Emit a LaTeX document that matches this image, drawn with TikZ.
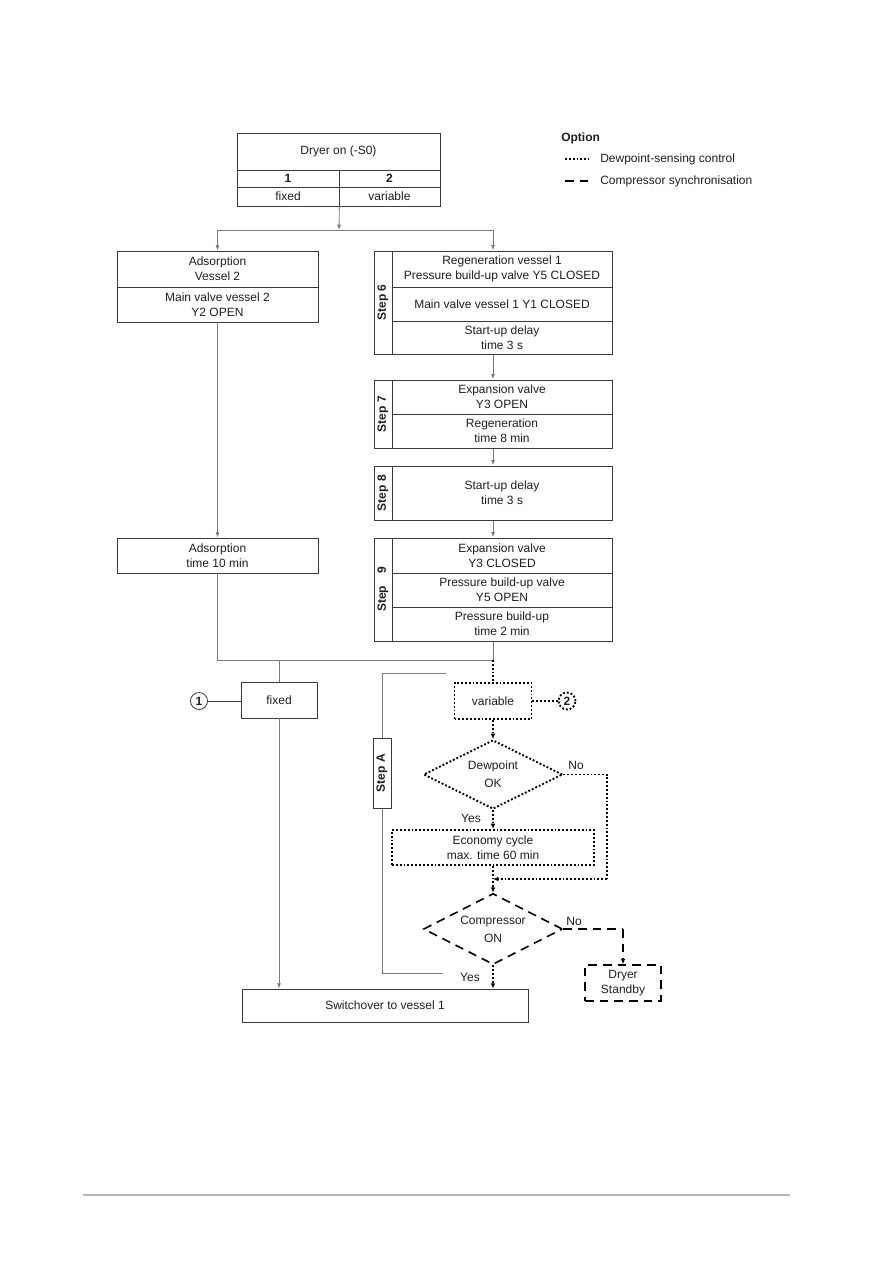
\documentclass[tikz,border=0pt]{standalone}
\usepackage{fontspec}
\setmainfont{Liberation Sans}
\usetikzlibrary{arrows.meta,shapes.geometric,fit}
\definecolor{boxc}{HTML}{3A3A3A}
\definecolor{linec}{HTML}{7A7A7A}
\definecolor{txt}{HTML}{1E1E1E}
\newcommand\fs{\fontsize{9pt}{11.5pt}\selectfont}
\newcommand\fsd{\fontsize{9pt}{13.5pt}\selectfont}
\begin{document}
\begin{tikzpicture}[x=0.75pt,y=-0.75pt,
  cell/.style={draw=boxc,line width=0.6pt,inner sep=0pt,align=center,font=\fs,text=txt},
  wh/.style 2 args={minimum width=#1*0.75pt,minimum height=#2*0.75pt},
  steplab/.style={rotate=90,font=\fs\bfseries,text=txt,inner sep=0pt},
  conn/.style={draw=linec,line width=0.6pt},
  arr/.style={conn,-{Latex[length=4pt,width=3pt]}},
  dotl/.style={draw=black,line width=1.4pt,dash pattern=on 1.4pt off 1.5pt},
  dashl/.style={draw=black,line width=1.2pt,dash pattern=on 6.5pt off 4.5pt},
  dtip/.style={-{Latex[length=4pt,width=3.5pt]}},
  lab/.style={font=\fs,text=txt,inner sep=0pt},
  dia/.style={diamond,aspect=2,inner sep=0pt,align=center,font=\fsd,text=txt},
  circ/.style={circle,inner sep=0pt,minimum size=17*0.75pt,font=\fs\bfseries,text=txt}
]
\useasboundingbox (0,0) rectangle (893,1263);

% Legend
\node[lab,anchor=west,font=\fs\bfseries] (opt) at (561,138) {Option};
\coordinate (l1a) at (565,159); \coordinate (l1b) at (589,159);
\coordinate (l2a) at (565,181); \coordinate (l2b) at (589,181);
\draw[dotl] (l1a) -- (l1b);
\draw[dashl] (l2a) -- (l2b);
\node[lab,anchor=west] (leg1) at (600,159) {Dewpoint-sensing control};
\node[lab,anchor=west] (leg2) at (600,181) {Compressor synchronisation};

% Top box
\node[cell,wh={203}{37}] (dtitle) at (338.5,151.5) {Dryer on (-S0)};
\node[cell,wh={102}{17},font=\fs\bfseries] (d1) at (288,178.5) {1};
\node[cell,wh={101}{17},font=\fs\bfseries] (d2) at (389.5,178.5) {2};
\node[cell,wh={102}{19}] (dfix) at (288,196.5) {fixed};
\node[cell,wh={101}{19}] (dvar) at (389.5,196.5) {variable};

% Left column
\node[cell,wh={201}{36}] (ads1) at (217.5,269) {Adsorption\\Vessel 2};
\node[cell,wh={201}{35}] (ads2) at (217.5,304.5) {Main valve vessel 2\\Y2 OPEN};
\node[cell,wh={201}{35}] (ads3) at (217.5,555.5) {Adsorption\\time 10 min};

% Step 6
\node[cell,wh={18}{103}] (s6col) at (383,302.5) {};
\node[steplab] (s6l) at (s6col) {Step 6};
\node[cell,wh={220}{36}] (s6a) at (502,269) {Regeneration vessel 1\\Pressure build-up valve Y5 CLOSED};
\node[cell,wh={220}{34}] (s6b) at (502,304) {Main valve vessel 1 Y1 CLOSED};
\node[cell,wh={220}{33}] (s6c) at (502,337.5) {Start-up delay\\time 3 s};
\node[fit=(s6col)(s6a)(s6c),inner sep=0pt] (step6) {};

% Step 7
\node[cell,wh={18}{68}] (s7col) at (383,414) {};
\node[steplab] (s7l) at (s7col) {Step 7};
\node[cell,wh={220}{34}] (s7a) at (502,397) {Expansion valve\\Y3 OPEN};
\node[cell,wh={220}{34}] (s7b) at (502,431) {Regeneration\\time 8 min};
\node[fit=(s7col)(s7a)(s7b),inner sep=0pt] (step7) {};

% Step 8
\node[cell,wh={18}{54}] (s8col) at (383,493) {};
\node[steplab] (s8l) at (s8col) {Step 8};
\node[cell,wh={220}{54}] (s8a) at (502,493) {Start-up delay\\time 3 s};
\node[fit=(s8col)(s8a),inner sep=0pt] (step8) {};

% Step 9
\node[cell,wh={18}{103}] (s9col) at (383,589.5) {};
\node[steplab] (s9l) at (s9col) {Step\quad 9};
\node[cell,wh={220}{35}] (s9a) at (502,555.5) {Expansion valve\\Y3 CLOSED};
\node[cell,wh={220}{34}] (s9b) at (502,590) {Pressure build-up valve\\Y5 OPEN};
\node[cell,wh={220}{34}] (s9c) at (502,624) {Pressure build-up\\time 2 min};
\node[fit=(s9col)(s9a)(s9c),inner sep=0pt] (step9) {};

% Split
\coordinate (split) at (339,230);
\coordinate (splitL) at (217.5,230);
\coordinate (splitR) at (493,230);
\draw[arr] (dfix.south east) -- (split);
\draw[conn] (splitL) -- (splitR);
\draw[arr] (splitL) -- (ads1.north);
\draw[arr] (splitR) -- (step6.north);
\draw[arr] (step6.south) -- (step7.north);
\draw[arr] (step7.south) -- (step8.north);
\draw[arr] (step8.south) -- (step9.north);
\draw[arr] (ads2.south) -- (ads3.north);

% Merge
\coordinate (mL) at (217.5,660);
\coordinate (mF) at (279,660);
\coordinate (mR) at (493,660);
\draw[conn] (ads3.south) -- (mL) -- (mR) -- (step9.south);

% fixed branch
\node[cell,wh={76}{36}] (fixedn) at (279,700) {fixed};
\node[circ,draw=boxc,line width=0.6pt] (c1) at (199,701) {1};
\draw[conn] (mF) -- (fixedn.north);
\draw[conn,draw=boxc] (c1.east) -- (c1.east -| fixedn.west);

% Switchover
\node[cell,wh={286}{33}] (switch) at (385,1005.5) {Switchover to vessel 1};
\draw[arr] (fixedn.south) -- (fixedn.south |- switch.north);

% variable branch
\node[cell,wh={77}{36},dotl] (varn) at (493,701) {variable};
\node[circ,dotl] (c2) at (567,701) {2};
\draw[dotl] (mR) -- (varn.north);
\draw[dotl] (varn.east) -- (c2.west);

\node[dia,dotl,wh={139}{69}] (dew) at (493,774.5) {Dewpoint\\OK};
\draw[dotl,dtip] (varn.south) -- (dew.north);

\node[cell,wh={202}{35},dotl] (eco) at (493,847.5) {Economy cycle\\max. time 60 min};
\draw[dotl,dtip] (dew.south) -- (eco.north);
\node[lab] (yes1) at (471,818) {Yes};
\node[lab] (no1) at (576,765) {No};

\coordinate (nR1) at (607,774.5);
\coordinate (nR2) at (607,879);
\coordinate (join) at (493,879);
\draw[dotl] (dew.east) -- (nR1) -- (nR2);
\draw[dotl,dtip] (nR2) -- (join);

\node[dia,dashl,wh={139}{71}] (comp) at (493,929) {Compressor\\ON};
\draw[dotl,dtip] (eco.south) -- (comp.north);
\node[lab] (no2) at (574,921) {No};
\node[lab] (yes2) at (470,977) {Yes};

\node[cell,wh={76}{36},dashl] (standby) at (623,983) {Dryer\\Standby};
\coordinate (cR) at (623,929);
\draw[dashl] (comp.east) -- (cR);
\draw[dashl,dtip] (cR) -- (standby.north);
\draw[dotl,dtip] (comp.south) -- (comp.south |- switch.north);

% Step A bracket
\coordinate (aT) at (446,673);
\coordinate (aTL) at (382,673);
\coordinate (aBL) at (382,973);
\coordinate (aB) at (443,973);
\draw[conn] (aT) -- (aTL) -- (aBL) -- (aB);
\node[cell,wh={18}{70},fill=white] (sAcol) at (382,773) {};
\node[steplab] (sAl) at (sAcol) {Step A};

% footer
\coordinate (f1) at (83,1195);
\coordinate (f2) at (790,1195);
\draw[draw=black!28,line width=1.5pt] (f1) -- (f2);
\end{tikzpicture}
\end{document}
